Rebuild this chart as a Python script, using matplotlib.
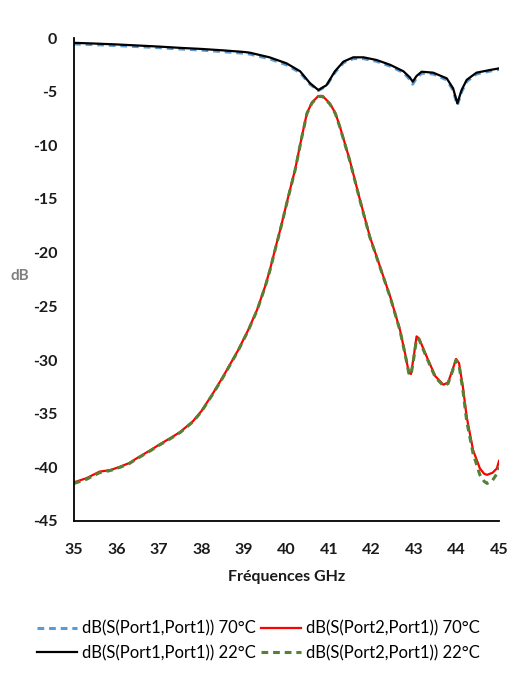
import matplotlib
matplotlib.use("Agg")
import matplotlib.pyplot as plt
import numpy as np

plt.rcParams['font.family'] = ['Lato', 'DejaVu Sans']
plt.rcParams['axes.unicode_minus'] = False

# S11 at 22°C (black) and 70°C (blue dashed)
f_s11 = [35.0, 35.5, 36.0, 36.5, 37.0, 37.5, 38.0, 38.5, 39.0, 39.14, 39.6, 40.0, 40.32,
         40.55, 40.75, 40.94, 41.14, 41.34, 41.57, 41.81, 42.12, 42.44, 42.75, 42.9,
         42.97, 43.06, 43.18, 43.45, 43.77, 43.92, 44.02, 44.12, 44.24, 44.47, 44.79, 45.0]
s11_22 = [-0.45, -0.52, -0.6, -0.7, -0.8, -0.92, -1.02, -1.15, -1.3, -1.37, -1.8, -2.36, -3.1,
          -4.2, -4.85, -4.4, -3.1, -2.2, -1.8, -1.8, -2.05, -2.5, -3.1, -3.66,
          -4.07, -3.54, -3.14, -3.23, -3.76, -4.69, -6.09, -4.85, -3.9, -3.23, -2.98, -2.83]
s11_70 = [-0.55, -0.62, -0.7, -0.8, -0.9, -1.02, -1.12, -1.27, -1.42, -1.5, -1.93, -2.5, -3.22,
          -4.3, -4.9, -4.45, -3.2, -2.3, -1.92, -1.92, -2.17, -2.62, -3.22, -3.85,
          -4.3, -3.7, -3.28, -3.35, -3.9, -4.85, -6.25, -5.0, -4.05, -3.35, -3.08, -2.92]

# S21 at 70°C (red) and 22°C (green dashed)
f_s21 = [35.0, 35.3, 35.6, 35.85, 36.08, 36.3, 36.5, 36.8, 37.0, 37.3, 37.5, 37.8, 38.0,
         38.27, 38.5, 38.86, 39.1, 39.31, 39.5, 39.61, 39.75, 39.85, 40.04, 40.2, 40.36,
         40.48, 40.6, 40.75, 40.85, 41.02, 41.15, 41.26, 41.49, 41.73, 41.96, 42.2, 42.44,
         42.67, 42.79, 42.88, 42.93, 43.0, 43.06, 43.12, 43.3, 43.5, 43.69, 43.8, 43.9,
         43.99, 44.06, 44.15, 44.24, 44.39, 44.55, 44.65, 44.72, 44.85, 44.95, 45.0]
s21_70 = [-41.4, -41.0, -40.4, -40.26, -39.95, -39.6, -39.1, -38.4, -37.9, -37.2, -36.7, -35.7, -34.75,
          -33.1, -31.6, -29.1, -27.2, -25.3, -23.1, -21.6, -19.4, -17.9, -14.8, -12.3, -9.2,
          -7.0, -6.0, -5.4, -5.4, -6.1, -7.0, -8.3, -11.4, -15.1, -18.5, -21.3, -24.1,
          -27.2, -29.4, -31.2, -31.3, -29.5, -27.8, -28.0, -29.7, -31.5, -32.3, -32.1, -31.0,
          -29.9, -30.3, -32.5, -35.3, -38.4, -40.1, -40.6, -40.7, -40.5, -40.1, -39.4]
s21_22 = [-41.5, -41.1, -40.5, -40.3, -40.0, -39.65, -39.15, -38.45, -37.95, -37.25, -36.75, -35.75, -34.8,
          -33.15, -31.65, -29.15, -27.25, -25.35, -23.15, -21.65, -19.45, -17.95, -14.85, -12.35, -9.25,
          -7.05, -6.05, -5.45, -5.45, -6.15, -7.05, -8.35, -11.45, -15.15, -18.55, -21.35, -24.15,
          -27.25, -29.45, -31.25, -31.4, -29.7, -28.0, -28.1, -29.8, -31.6, -32.4, -32.2, -31.1,
          -30.0, -30.5, -32.8, -35.7, -38.7, -40.7, -41.3, -41.5, -41.2, -40.6, -39.95]

x_ticks = [35, 36, 37, 38, 39, 40, 41, 42, 43, 44, 45]
y_ticks = [0, -5, -10, -15, -20, -25, -30, -35, -40, -45]

labels = ['dB(S(Port1,Port1)) 70°C', 'dB(S(Port1,Port1)) 22°C',
          'dB(S(Port2,Port1)) 70°C', 'dB(S(Port2,Port1)) 22°C']

fig = plt.figure(figsize=(5.09, 6.73), dpi=100)
ax = fig.add_axes([74/509, 1 - 521/673, (499-74)/509, (521-38)/673])

lw = 1.6
h_s21_70, = ax.plot(f_s21, s21_70, color='#FF0000', lw=lw, label=labels[2])
h_s21_22, = ax.plot(f_s21, s21_22, color='#548235', lw=2.2, ls=(0, (2.2, 1.6)), label=labels[3])
h_s11_70, = ax.plot(f_s11, s11_70, color='#5B9BD5', lw=2.2, ls=(0, (2.2, 1.6)), label=labels[0])
h_s11_22, = ax.plot(f_s11, s11_22, color='black', lw=lw, label=labels[1])

ax.set_xlim(35, 45)
ax.set_ylim(-45, 0)
ax.set_xticks(x_ticks)
ax.set_yticks(y_ticks)
ax.tick_params(axis='y', length=0, labelsize=11.5, pad=12)
ax.tick_params(axis='x', length=0, labelsize=11.5, pad=16)
for t in ax.get_xticklabels() + ax.get_yticklabels():
    t.set_fontweight('bold')
    t.set_color('#1a1a1a')
for s in ['top', 'right']:
    ax.spines[s].set_visible(False)
for s in ['left', 'bottom']:
    ax.spines[s].set_linewidth(1.3)

ax.set_xlabel('Fréquences GHz', fontsize=11.5, fontweight='bold', color='#1a1a1a', labelpad=9)
ax.set_ylabel('dB', fontsize=11, fontweight='bold', color='#7f7f7f', rotation=0)
ax.yaxis.set_label_coords(-54/425, 0.5 - 4/483)

fig.legend([h_s11_70, h_s11_22, h_s21_70, h_s21_22], labels, ncol=2,
           loc='center', bbox_to_anchor=(258/509, 1 - 641/673), frameon=False,
           fontsize=12, handlelength=2.4, handletextpad=0.3, columnspacing=0.3,
           labelspacing=0.5)

fig.savefig('out.png', dpi=100)
